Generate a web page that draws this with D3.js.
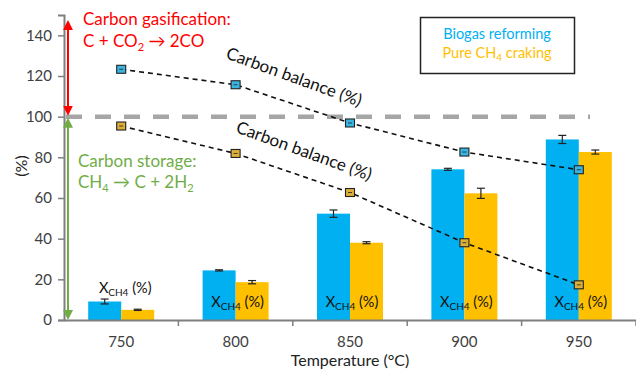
<!DOCTYPE html>
<html><head><meta charset="utf-8">
<script src="https://cdn.jsdelivr.net/npm/d3@7"></script>
<style>body{margin:0;background:#fff}svg{display:block}text{font-family:Lato,"Open Sans",sans-serif}</style>
</head><body><svg id="c" width="636" height="373"></svg>
<script>
const categories = ["750","800","850","900","950"];
const series = ["Biogas reforming","Pure CH4 craking"];
const xBiogas = [9.1, 24.4, 52.3, 74.1, 88.8];
const xBiogasErr = [1.2, 0.3, 1.8, 0.5, 2.0];
const xPure = [5.0, 18.6, 38.0, 62.3, 82.6];
const xPureErr = [0.3, 0.8, 0.5, 2.5, 1.0];
const cbBiogas = [123.3, 115.7, 96.9, 82.6, 73.9];
const cbPure = [95.4, 81.9, 62.7, 38.0, 17.3];
const yTicks = [0,20,40,60,80,100,120,140];
const colors = ["#00b0f0","#ffc000"];

(function(){
const svg = d3.select("#c");
const mL = 64, mR = 636, mT = 15, mB = 320;
const x = d3.scaleBand().domain(categories).range([mL, mR]).padding(0);
const bw = x.bandwidth();
const xs = d3.scaleBand().domain(series).range([bw/2-33, bw/2+33]).padding(0);
const y = d3.scaleLinear().domain([0,150]).range([mB, mT]);
const cx = c => x(c) + bw/2;

// bars
const barData = [xBiogas, xPure];
const errData = [xBiogasErr, xPureErr];
series.forEach((s, si) => {
  svg.append("g").selectAll("rect").data(categories).join("rect")
    .attr("x", c => x(c) + xs(s)).attr("width", xs.bandwidth())
    .attr("y", (c,i) => y(barData[si][i])).attr("height", (c,i) => mB - y(barData[si][i]))
    .attr("fill", colors[si]);
  const eg = svg.append("g").attr("stroke","#222").attr("stroke-width",1.2);
  categories.forEach((c,i) => {
    const mx = x(c) + xs(s) + xs.bandwidth()/2;
    const v = barData[si][i], e = errData[si][i];
    eg.append("line").attr("x1",mx).attr("x2",mx).attr("y1",y(v+e)).attr("y2",y(v-e));
    eg.append("line").attr("x1",mx-4).attr("x2",mx+4).attr("y1",y(v+e)).attr("y2",y(v+e));
    eg.append("line").attr("x1",mx-4).attr("x2",mx+4).attr("y1",y(v-e)).attr("y2",y(v-e));
  });
});

// 100% reference line
svg.append("line").attr("x1",mL+2).attr("x2",590).attr("y1",y(100)).attr("y2",y(100))
  .attr("stroke","#a6a6a6").attr("stroke-width",4.5).attr("stroke-dasharray","16,13");

// axes
const ya = svg.append("g").attr("transform",`translate(${mL},0)`)
  .call(d3.axisLeft(y).tickValues(yTicks).tickSize(6).tickPadding(6));
ya.select(".domain").attr("stroke","#7f7f7f").attr("stroke-width",2);
ya.selectAll(".tick line").attr("stroke","#7f7f7f").attr("stroke-width",1.5);
ya.selectAll("text").attr("fill","#404040").style("font-size","15px").style("font-family","Lato");

const xa = svg.append("g").attr("transform",`translate(0,${mB})`)
  .call(d3.axisBottom(x).tickSize(0).tickPadding(16));
xa.select(".domain").attr("stroke","#7f7f7f").attr("stroke-width",2);
xa.selectAll("text").attr("fill","#404040").style("font-size","15px").style("font-family","Lato");
svg.append("g").selectAll("line").data(categories).join("line")
  .attr("x1", c => x(c)+bw).attr("x2", c => x(c)+bw).attr("y1",mB).attr("y2",mB+6)
  .attr("stroke","#7f7f7f").attr("stroke-width",1.5);

// carbon balance lines
const cbData = [cbBiogas, cbPure];
const line = d3.line().x((d,i) => cx(categories[i])).y(d => y(d));
cbData.forEach((arr, si) => {
  svg.append("path").attr("d", line(arr)).attr("fill","none").attr("stroke","#111")
    .attr("stroke-width",1.6).attr("stroke-dasharray","5,4");
  const g = svg.append("g");
  arr.forEach((v,i) => {
    const px = cx(categories[i]), py = y(v);
    g.append("rect").attr("x",px-4.5).attr("y",py-4).attr("width",9).attr("height",8)
      .attr("fill", si===0 ? "#3ab4e0" : "#dcae3a").attr("stroke","#222").attr("stroke-width",1.1);
    g.append("line").attr("x1",px-2).attr("x2",px+2).attr("y1",py).attr("y2",py)
      .attr("stroke","#222").attr("stroke-width",0.8);
  });
});

// carbon balance labels
const cbLabels = [[225,58],[235,132]];
cbLabels.forEach(p => {
  svg.append("text").attr("transform",`translate(${p[0]},${p[1]}) rotate(20)`)
    .attr("fill","#111").style("font-size","17px").text("Carbon balance (%)");
});

// X_CH4 labels
function xch4(g, tx, ty) {
  const t = g.append("text").attr("x",tx).attr("y",ty).attr("text-anchor","middle")
    .attr("fill","#111").style("font-size","14.5px");
  t.append("tspan").text("X");
  t.append("tspan").attr("dy",3).style("font-size","10px").text("CH4");
  t.append("tspan").attr("dy",-3).text(" (%)");
}
const lblG = svg.append("g");
categories.forEach((c,i) => {
  if (i===0) xch4(lblG, cx(c)+4, 293);
  else xch4(lblG, cx(c)+2, 307);
});

// arrows
const defs = svg.append("defs");
[["r","#ff0000"],["g","#70ad47"]].forEach(([id,col]) => {
  defs.append("marker").attr("id","a"+id).attr("viewBox","0 0 10 10").attr("refX",5).attr("refY",5)
    .attr("markerWidth",10).attr("markerHeight",10).attr("markerUnits","userSpaceOnUse")
    .attr("orient","auto-start-reverse")
    .append("path").attr("d","M0,0 L10,5 L0,10 z").attr("fill",col);
});
svg.append("line").attr("x1",68).attr("x2",68).attr("y1",y(147)+4).attr("y2",y(101)-4)
  .attr("stroke","#ff0000").attr("stroke-width",2)
  .attr("marker-start","url(#ar)").attr("marker-end","url(#ar)");
svg.append("line").attr("x1",68).attr("x2",68).attr("y1",y(99)+4).attr("y2",y(0.5)-4)
  .attr("stroke","#70ad47").attr("stroke-width",2)
  .attr("marker-start","url(#ag)").attr("marker-end","url(#ag)");

// annotations
svg.append("text").attr("x",83).attr("y",25).attr("fill","#ff0000").style("font-size","17px").text("Carbon gasification:");
{
  const t = svg.append("text").attr("x",83).attr("y",47).attr("fill","#ff0000").style("font-size","17px");
  t.append("tspan").text("C + CO");
  t.append("tspan").attr("dy",4).style("font-size","11px").text("2");
  t.append("tspan").attr("dy",-4).text(" \u2192 2CO");
}
svg.append("text").attr("x",78).attr("y",167).attr("fill","#70ad47").style("font-size","17px").text("Carbon storage:");
{
  const t = svg.append("text").attr("x",78).attr("y",188).attr("fill","#70ad47").style("font-size","17px");
  t.append("tspan").text("CH");
  t.append("tspan").attr("dy",4).style("font-size","11px").text("4");
  t.append("tspan").attr("dy",-4).text(" \u2192 C + 2H");
  t.append("tspan").attr("dy",4).style("font-size","11px").text("2");
}

// legend
svg.append("rect").attr("x",420.5).attr("y",17.5).attr("width",154).attr("height",56)
  .attr("fill","#fff").attr("stroke","#222").attr("stroke-width",1.5);
svg.append("text").attr("x",497).attr("y",39).attr("text-anchor","middle").attr("fill",colors[0])
  .style("font-size","14.5px").text(series[0]);
{
  const t = svg.append("text").attr("x",497).attr("y",58).attr("text-anchor","middle").attr("fill",colors[1]).style("font-size","14.5px");
  t.append("tspan").text("Pure CH");
  t.append("tspan").attr("dy",3).style("font-size","10px").text("4");
  t.append("tspan").attr("dy",-3).text(" craking");
}

// axis titles
svg.append("text").attr("transform","translate(27,166) rotate(-90)").attr("text-anchor","middle")
  .attr("fill","#222").style("font-size","16px").text("(%)");
svg.append("text").attr("x",350).attr("y",366).attr("text-anchor","middle")
  .attr("fill","#222").style("font-size","16px").text("Temperature (°C)");
})();
</script></body></html>
